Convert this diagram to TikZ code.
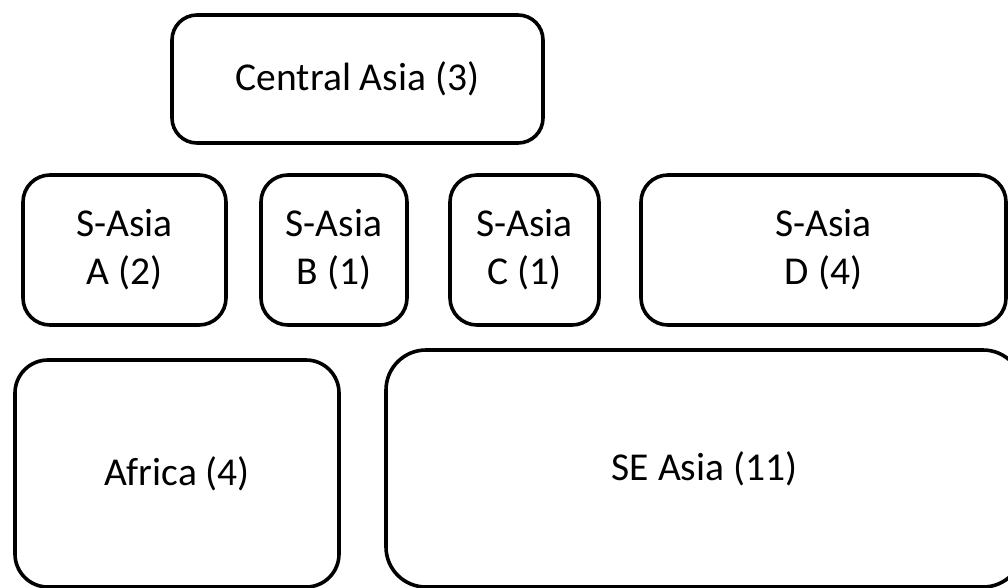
\documentclass[tikz,border=0pt]{standalone}
\usepackage{fontspec}
\setmainfont{Carlito}
\begin{document}
\begin{tikzpicture}[x=1pt,y=-1pt,
  region/.style={draw=black, line width=3.6pt, fill=white, align=center,
    font=\fontsize{39.5}{48}\selectfont, inner sep=0pt},
]
\useasboundingbox (0,0) rectangle (1008,587);
\fill[white] (0,0) rectangle (1008,587);
% top row
\node[region, rounded corners=25pt, minimum width=371pt, minimum height=128pt] (central) at (357.5,79) {Central Asia (3)};
% middle row
\node[region, rounded corners=27pt, minimum width=203pt, minimum height=150pt] (sa) at (124.5,250) {S-Asia\\A (2)};
\node[region, rounded corners=27pt, minimum width=146pt, minimum height=150pt] (sb) at (334,250) {S-Asia\\B (1)};
\node[region, rounded corners=27pt, minimum width=149pt, minimum height=150pt] (sc) at (524.5,250) {S-Asia\\C (1)};
\node[region, rounded corners=27pt, minimum width=365pt, minimum height=150pt] (sd) at (823.5,250) {S-Asia\\D (4)};
% bottom row
\node[region, rounded corners=33pt, minimum width=324pt, minimum height=227pt] (africa) at (177,473.5) {Africa (4)};
\node[region, rounded corners=40pt, minimum width=637pt, minimum height=237pt] (sea) at (704.5,468.5) {SE Asia (11)};
\end{tikzpicture}
\end{document}
